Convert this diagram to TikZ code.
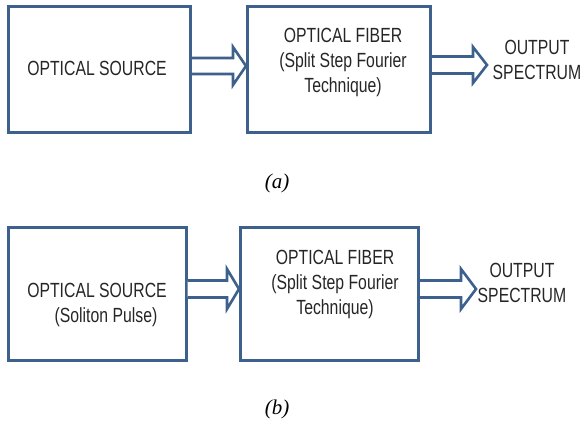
\documentclass[tikz,border=0pt]{standalone}
\usepackage{fontspec}
\setmainfont{Liberation Sans}[FakeStretch=0.77]
\newfontfamily\capfont{Liberation Serif}
\usetikzlibrary{calc}
\definecolor{frame}{RGB}{61,96,141}
\tikzset{
  blockbox/.style={draw=frame, line width=3pt, fill=white, inner sep=0pt},
  blocktext/.style={font=\fontsize{20.5}{25}\selectfont, align=center, inner sep=0pt, text=black!85},
  caption/.style={font=\capfont\itshape\fontsize{21}{24}\selectfont, inner sep=0pt},
  fatarrow/.style={draw=frame, line width=2.6pt, fill=white, line join=miter}
}
% block arrow from the east side of node #1 to point #2:
% #3 shaft half width, #4 head half width, #5 head length
\newcommand{\blockarrow}[5]{%
  \draw[fatarrow]
    ($(#1.east |- #2)+(0,-#3)$) -- ($(#2)+(-#5,-#3)$) -- ($(#2)+(-#5,-#4)$)
    -- (#2) -- ($(#2)+(-#5,#4)$) -- ($(#2)+(-#5,#3)$) -- ($(#1.east |- #2)+(0,#3)$);
}
\begin{document}
\begin{tikzpicture}[x=1pt,y=-1pt]
\useasboundingbox (0,0) rectangle (584,425);

% ---- (a) ----
\node[blockbox, minimum width=182pt, minimum height=126pt] (srcA) at (99.5,70) {};
\node[blocktext] (srcAtxt) at (97,68) {OPTICAL SOURCE};
\node[blockbox, minimum width=183pt, minimum height=126pt] (fibA) at (339,70) {};
\node[blocktext] (fibAtxt) at (343,62.5) {OPTICAL FIBER\\(Split Step Fourier\\Technique)};
\node[blocktext] (outA) at (537,60) {OUTPUT\\SPECTRUM};
\coordinate (inA) at (fibA.west |- 0,66);
\coordinate (tipA) at (487,65);

\blockarrow{srcA}{inA}{8}{19}{13}
\blockarrow{fibA}{tipA}{8.5}{18}{14}

\node[caption] (capA) at (277,183) {(a)};

% ---- (b) ----
\node[blockbox, minimum width=177.5pt, minimum height=133.5pt] (srcB) at (97.25,293.75) {};
\node[blocktext] (srcBtxt) at (97,304.5) {OPTICAL SOURCE\\\hspace*{18pt}(Soliton Pulse)};
\node[blockbox, minimum width=178pt, minimum height=133.5pt] (fibB) at (329.5,293.75) {};
\node[blocktext] (fibBtxt) at (335,284.5) {OPTICAL FIBER\\(Split Step Fourier\\Technique)};
\node[blocktext] (outB) at (522,283) {OUTPUT\\SPECTRUM};
\coordinate (inB) at (fibB.west |- 0,289);
\coordinate (tipB) at (476,289);

\blockarrow{srcB}{inB}{8.5}{20}{12}
\blockarrow{fibB}{tipB}{8.5}{20}{15}

\node[caption] (capB) at (277,409) {(b)};
\end{tikzpicture}
\end{document}
